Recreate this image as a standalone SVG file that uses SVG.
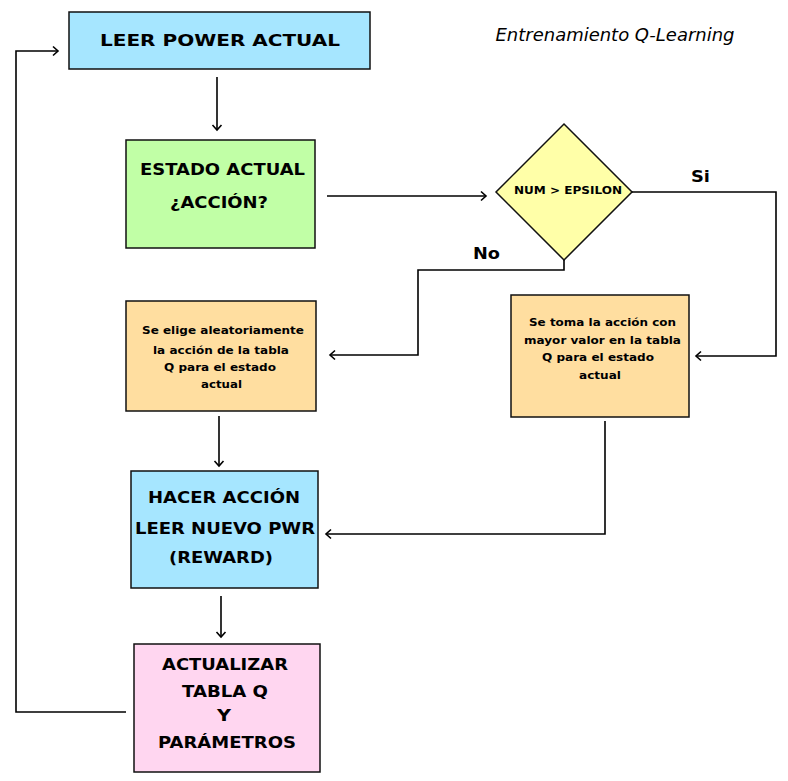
<svg xmlns="http://www.w3.org/2000/svg" width="788" height="781" viewBox="0 0 788 781">
<defs>
<marker id="arr" markerUnits="userSpaceOnUse" markerWidth="12" markerHeight="12" refX="7" refY="6" orient="auto">
<path d="M2,1.5 L7,6 L2,10.5" fill="none" stroke="#000" stroke-width="1.6"/>
</marker>
</defs>
<style>
.box{stroke:#111;stroke-width:1.5}
.t{font-family:"DejaVu Sans",sans-serif;font-weight:bold;fill:#000;text-anchor:middle}
.big{font-size:16.5px}
.sm{font-size:11px}
.c{fill:none;stroke:#000;stroke-width:1.6}
</style>
<rect width="788" height="781" fill="#fff"/>
<text x="615" y="41" textLength="239" lengthAdjust="spacingAndGlyphs" style="font-family:'DejaVu Sans',sans-serif;font-style:italic;font-size:18px;text-anchor:middle">Entrenamiento Q-Learning</text>
<g id="n-leer">
<rect class="box" x="69" y="12" width="301" height="57" fill="#a6e6ff"/>
<text class="t big" x="220" y="46" textLength="240" lengthAdjust="spacingAndGlyphs">LEER POWER ACTUAL</text>
</g>
<g id="n-estado">
<rect class="box" x="126" y="140" width="189" height="108" fill="#c1ffa6"/>
<text class="t big" x="222.5" y="175" textLength="165" lengthAdjust="spacingAndGlyphs">ESTADO ACTUAL</text>
<text class="t big" x="219" y="208" textLength="98" lengthAdjust="spacingAndGlyphs">¿ACCIÓN?</text>
</g>
<g id="n-decision">
<polygon class="box" points="564,124 632,192 564,260 496,192" fill="#ffffa8"/>
<text class="t" x="568" y="194" textLength="108" lengthAdjust="spacingAndGlyphs" style="font-size:11px">NUM &gt; EPSILON</text>
</g>
<g id="n-aleatorio">
<rect class="box" x="126" y="301" width="190" height="110" fill="#ffdea0"/>
<text class="t sm" x="223" y="334" textLength="162" lengthAdjust="spacingAndGlyphs">Se elige aleatoriamente</text>
<text class="t sm" x="221" y="354" textLength="136" lengthAdjust="spacingAndGlyphs">la acción de la tabla</text>
<text class="t sm" x="220" y="371" textLength="112" lengthAdjust="spacingAndGlyphs">Q para el estado</text>
<text class="t sm" x="221.5" y="388" textLength="41" lengthAdjust="spacingAndGlyphs">actual</text>
</g>
<g id="n-mayor">
<rect class="box" x="511" y="295" width="178" height="122" fill="#ffdea0"/>
<text class="t sm" x="602.5" y="326" textLength="147" lengthAdjust="spacingAndGlyphs">Se toma la acción con</text>
<text class="t sm" x="602.5" y="344" textLength="157" lengthAdjust="spacingAndGlyphs">mayor valor en la tabla</text>
<text class="t sm" x="598" y="361" textLength="112" lengthAdjust="spacingAndGlyphs">Q para el estado</text>
<text class="t sm" x="600" y="379" textLength="42" lengthAdjust="spacingAndGlyphs">actual</text>
</g>
<g id="n-hacer">
<rect class="box" x="131" y="471" width="187" height="117" fill="#a6e6ff"/>
<text class="t big" x="224" y="503" textLength="152" lengthAdjust="spacingAndGlyphs">HACER ACCIÓN</text>
<text class="t big" x="225" y="534" textLength="180" lengthAdjust="spacingAndGlyphs">LEER NUEVO PWR</text>
<text class="t big" x="221" y="563" textLength="104" lengthAdjust="spacingAndGlyphs">(REWARD)</text>
</g>
<g id="n-actualizar">
<rect class="box" x="134" y="644" width="186" height="128" fill="#ffd6f0"/>
<text class="t big" x="225" y="670" textLength="126" lengthAdjust="spacingAndGlyphs">ACTUALIZAR</text>
<text class="t big" x="225" y="697" textLength="86" lengthAdjust="spacingAndGlyphs">TABLA Q</text>
<text class="t big" x="224" y="721" textLength="14" lengthAdjust="spacingAndGlyphs">Y</text>
<text class="t big" x="227" y="748" textLength="138" lengthAdjust="spacingAndGlyphs">PARÁMETROS</text>
</g>
<g id="connectors">
<line class="c" x1="217" y1="77" x2="217" y2="130" marker-end="url(#arr)"/>
<line class="c" x1="327" y1="196" x2="486" y2="196" marker-end="url(#arr)"/>
<polyline class="c" points="632,192 776,192 776,356 696,356" marker-end="url(#arr)"/>
<polyline class="c" points="564,260 564,270 418,270 418,355 330,355" marker-end="url(#arr)"/>
<line class="c" x1="219" y1="416" x2="219" y2="466" marker-end="url(#arr)"/>
<polyline class="c" points="605,421 605,534 326,534" marker-end="url(#arr)"/>
<line class="c" x1="221" y1="596" x2="221" y2="637" marker-end="url(#arr)"/>
<polyline class="c" points="126,712 16,712 16,51 58,51" marker-end="url(#arr)"/>
<text class="t" x="700.5" y="182" textLength="19" lengthAdjust="spacingAndGlyphs" style="font-size:16.5px">Si</text>
<text class="t" x="486.5" y="259" textLength="27" lengthAdjust="spacingAndGlyphs" style="font-size:16.5px">No</text>
</g>
</svg>
